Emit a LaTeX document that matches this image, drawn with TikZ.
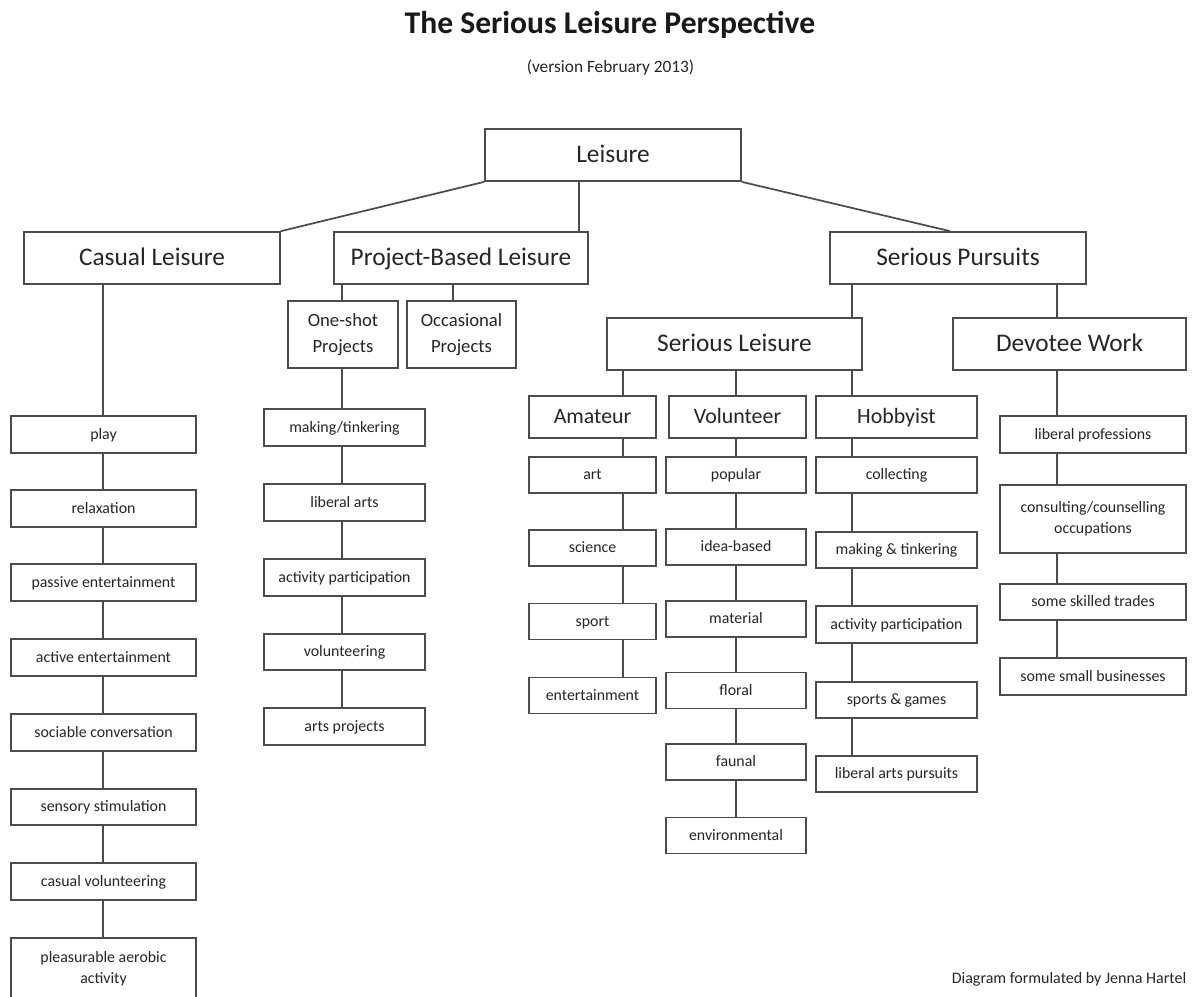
\documentclass[tikz,border=0pt]{standalone}
\usepackage{fontspec}
\setmainfont{Carlito}

\begin{document}
\begin{tikzpicture}[x=0.75pt, y=-0.75pt,
	box/.style={rectangle, draw=black!70, line width=1.3pt, fill=white, inner sep=0pt, align=center, text=black!85},
	topBox/.style={box, text height=11.8pt, text depth=0.4pt, minimum height=39pt, font=\fontsize{19pt}{23pt}\selectfont},
	groupBox/.style={box, text height=10.2pt, text depth=0.3pt, minimum height=31.5pt, font=\fontsize{16.4pt}{20pt}\selectfont},
	projBox/.style={box, minimum height=50.25pt, font=\fontsize{14pt}{20pt}\selectfont},
	itemFont/.style={box, font=\fontsize{11.9pt}{16pt}\selectfont},
	itemBox/.style={itemFont, text height=7.4pt, text depth=0.2pt, minimum height=27.5pt},
	casualItem/.style={itemBox, minimum width=138.75pt},
	projectItem/.style={itemBox, minimum width=120.75pt},
	amateurItem/.style={itemBox, minimum width=95.25pt, minimum height=27pt},
	volunteerItem/.style={itemBox, minimum width=105pt, minimum height=27pt},
	hobbyistItem/.style={itemBox, minimum width=120.75pt},
	devoteeItem/.style={itemBox, minimum width=139.5pt},
	edge/.style={draw=black!70, line width=1.3pt}]

	\useasboundingbox (0,0) rectangle (1194,996);
	\clip (0,0) rectangle (1194,996);

	% titles
	\node[anchor=base, text=black!90, font=\fontsize{23.7pt}{28pt}\selectfont\bfseries](titleText) at (610,33){The Serious Leisure Perspective};
	\node[anchor=base, text=black!85, font=\fontsize{13pt}{16pt}\selectfont](versionText) at (610.5,72){(version February 2013)};
	\node[anchor=base east, text=black!85, font=\fontsize{12pt}{15pt}\selectfont](creditText) at (1191,983){Diagram formulated by Jenna Hartel};

	% column lines
	\coordinate (leisureCol) at (579,0);
	\coordinate (casualCol) at (103,0);
	\coordinate (projectCol) at (342,0);
	\coordinate (occasionalCol) at (453,0);
	\coordinate (amateurCol) at (623,0);
	\coordinate (volunteerCol) at (736,0);
	\coordinate (hobbyistCol) at (852,0);
	\coordinate (devoteeCol) at (1057,0);

	% main boxes
	\node[topBox, minimum width=192pt](leisureBox) at (613,155){Leisure};
	\node[topBox, minimum width=192pt](casualBox) at (152,258){Casual Leisure};
	\node[topBox, minimum width=190.5pt](projectBox) at (461,258){Project-Based Leisure};
	\node[topBox, minimum width=192pt](pursuitsBox) at (958,258){Serious Pursuits};
	\node[topBox, minimum width=191.25pt](seriousBox) at (734.5,344){Serious Leisure};
	\node[topBox, minimum width=174.75pt](devoteeBox) at (1069.5,344){Devotee Work};

	\node[projBox, minimum width=82.5pt](oneShotBox) at (343,334.5){One-shot\\Projects};
	\node[projBox, minimum width=81.75pt](occasionalBox) at (461.5,334.5){Occasional\\Projects};

	\node[groupBox, minimum width=95.25pt](amateurBox) at (592.5,417){Amateur};
	\node[groupBox, minimum width=102.75pt](volunteerBox) at (737.5,417){Volunteer};
	\node[groupBox, minimum width=120.75pt](hobbyistBox) at (896.5,417){Hobbyist};

	% casual leisure
	\node[casualItem](playBox) at (103.5,434.5){play};
	\node[casualItem](relaxBox) at (103.5,508.5){relaxation};
	\node[casualItem](passiveBox) at (103.5,582.5){passive entertainment};
	\node[casualItem](activeBox) at (103.5,657.5){active entertainment};
	\node[casualItem](sociableBox) at (103.5,732.5){sociable conversation};
	\node[casualItem](sensoryBox) at (103.5,807){sensory stimulation};
	\node[casualItem](casualVolBox) at (103.5,881.5){casual volunteering};
	\node[itemFont, minimum width=138.75pt, minimum height=46.5pt](aerobicBox) at (103.5,969){pleasurable aerobic\\activity};

	% project-based leisure
	\node[projectItem](makingBox) at (344.5,427.5){making/tinkering};
	\node[projectItem](liberalBox) at (344.5,502.5){liberal arts};
	\node[projectItem](activityBox) at (344.5,577.5){activity participation};
	\node[projectItem](volunteeringBox) at (344.5,652){volunteering};
	\node[projectItem](artsBox) at (344.5,726.5){arts projects};

	% amateur
	\node[amateurItem](artBox) at (592.5,475){art};
	\node[amateurItem](scienceBox) at (592.5,548){science};
	\node[amateurItem](sportBox) at (592.5,621.5){sport};
	\node[amateurItem](entertainBox) at (592.5,695.5){entertainment};

	% volunteer
	\node[volunteerItem](popularBox) at (736,475){popular};
	\node[volunteerItem](ideaBox) at (736,547){idea-based};
	\node[volunteerItem](materialBox) at (736,619){material};
	\node[volunteerItem](floralBox) at (736,690.5){floral};
	\node[volunteerItem](faunalBox) at (736,762){faunal};
	\node[volunteerItem](environBox) at (736,835.5){environmental};

	% hobbyist
	\node[hobbyistItem](collectingBox) at (896.5,475){collecting};
	\node[hobbyistItem](tinkeringBox) at (896.5,550){making \& tinkering};
	\node[hobbyistItem](participationBox) at (896.5,624.5){activity participation};
	\node[hobbyistItem](sportsBox) at (896.5,700){sports \& games};
	\node[hobbyistItem](pursuitBox) at (896.5,774){liberal arts pursuits};

	% devotee work
	\node[devoteeItem](professBox) at (1093,434.5){liberal professions};
	\node[itemFont, minimum width=139.5pt, minimum height=51pt](consultBox) at (1093,519){consulting/counselling\\occupations};
	\node[devoteeItem](tradesBox) at (1093,602){some skilled trades};
	\node[devoteeItem](businessBox) at (1093,676.5){some small businesses};

	% draw top edges
	\draw[edge] (leisureBox.south west) -- (casualBox.north east);
	\draw[edge] (leisureBox.south -| leisureCol) -- (projectBox.north -| leisureCol);
	\draw[edge] (leisureBox.south east) -- ([xshift=-6pt]pursuitsBox.north);

	\draw[edge] (projectBox.south -| projectCol) -- (oneShotBox.north -| projectCol);
	\draw[edge] (projectBox.south -| occasionalCol) -- (occasionalBox.north -| occasionalCol);
	\draw[edge] (pursuitsBox.south -| hobbyistCol) -- (seriousBox.north -| hobbyistCol);
	\draw[edge] (pursuitsBox.south -| devoteeCol) -- (devoteeBox.north -| devoteeCol);

	\draw[edge] (seriousBox.south -| amateurCol) -- (amateurBox.north -| amateurCol);
	\draw[edge] (seriousBox.south -| volunteerCol) -- (volunteerBox.north -| volunteerCol);
	\draw[edge] (seriousBox.south -| hobbyistCol) -- (hobbyistBox.north -| hobbyistCol);

	% draw casual edges
	\draw[edge] (casualBox.south -| casualCol) -- (playBox.north -| casualCol);
	\draw[edge] (playBox.south -| casualCol) -- (relaxBox.north -| casualCol);
	\draw[edge] (relaxBox.south -| casualCol) -- (passiveBox.north -| casualCol);
	\draw[edge] (passiveBox.south -| casualCol) -- (activeBox.north -| casualCol);
	\draw[edge] (activeBox.south -| casualCol) -- (sociableBox.north -| casualCol);
	\draw[edge] (sociableBox.south -| casualCol) -- (sensoryBox.north -| casualCol);
	\draw[edge] (sensoryBox.south -| casualCol) -- (casualVolBox.north -| casualCol);
	\draw[edge] (casualVolBox.south -| casualCol) -- (aerobicBox.north -| casualCol);

	% draw project edges
	\draw[edge] (oneShotBox.south -| projectCol) -- (makingBox.north -| projectCol);
	\draw[edge] (makingBox.south -| projectCol) -- (liberalBox.north -| projectCol);
	\draw[edge] (liberalBox.south -| projectCol) -- (activityBox.north -| projectCol);
	\draw[edge] (activityBox.south -| projectCol) -- (volunteeringBox.north -| projectCol);
	\draw[edge] (volunteeringBox.south -| projectCol) -- (artsBox.north -| projectCol);

	% draw amateur edges
	\draw[edge] (amateurBox.south -| amateurCol) -- (artBox.north -| amateurCol);
	\draw[edge] (artBox.south -| amateurCol) -- (scienceBox.north -| amateurCol);
	\draw[edge] (scienceBox.south -| amateurCol) -- (sportBox.north -| amateurCol);
	\draw[edge] (sportBox.south -| amateurCol) -- (entertainBox.north -| amateurCol);

	% draw volunteer edges
	\draw[edge] (volunteerBox.south -| volunteerCol) -- (popularBox.north -| volunteerCol);
	\draw[edge] (popularBox.south -| volunteerCol) -- (ideaBox.north -| volunteerCol);
	\draw[edge] (ideaBox.south -| volunteerCol) -- (materialBox.north -| volunteerCol);
	\draw[edge] (materialBox.south -| volunteerCol) -- (floralBox.north -| volunteerCol);
	\draw[edge] (floralBox.south -| volunteerCol) -- (faunalBox.north -| volunteerCol);
	\draw[edge] (faunalBox.south -| volunteerCol) -- (environBox.north -| volunteerCol);

	% draw hobbyist edges
	\draw[edge] (hobbyistBox.south -| hobbyistCol) -- (collectingBox.north -| hobbyistCol);
	\draw[edge] (collectingBox.south -| hobbyistCol) -- (tinkeringBox.north -| hobbyistCol);
	\draw[edge] (tinkeringBox.south -| hobbyistCol) -- (participationBox.north -| hobbyistCol);
	\draw[edge] (participationBox.south -| hobbyistCol) -- (sportsBox.north -| hobbyistCol);
	\draw[edge] (sportsBox.south -| hobbyistCol) -- (pursuitBox.north -| hobbyistCol);

	% draw devotee edges
	\draw[edge] (devoteeBox.south -| devoteeCol) -- (professBox.north -| devoteeCol);
	\draw[edge] (professBox.south -| devoteeCol) -- (consultBox.north -| devoteeCol);
	\draw[edge] (consultBox.south -| devoteeCol) -- (tradesBox.north -| devoteeCol);
	\draw[edge] (tradesBox.south -| devoteeCol) -- (businessBox.north -| devoteeCol);

\end{tikzpicture}
\end{document}
